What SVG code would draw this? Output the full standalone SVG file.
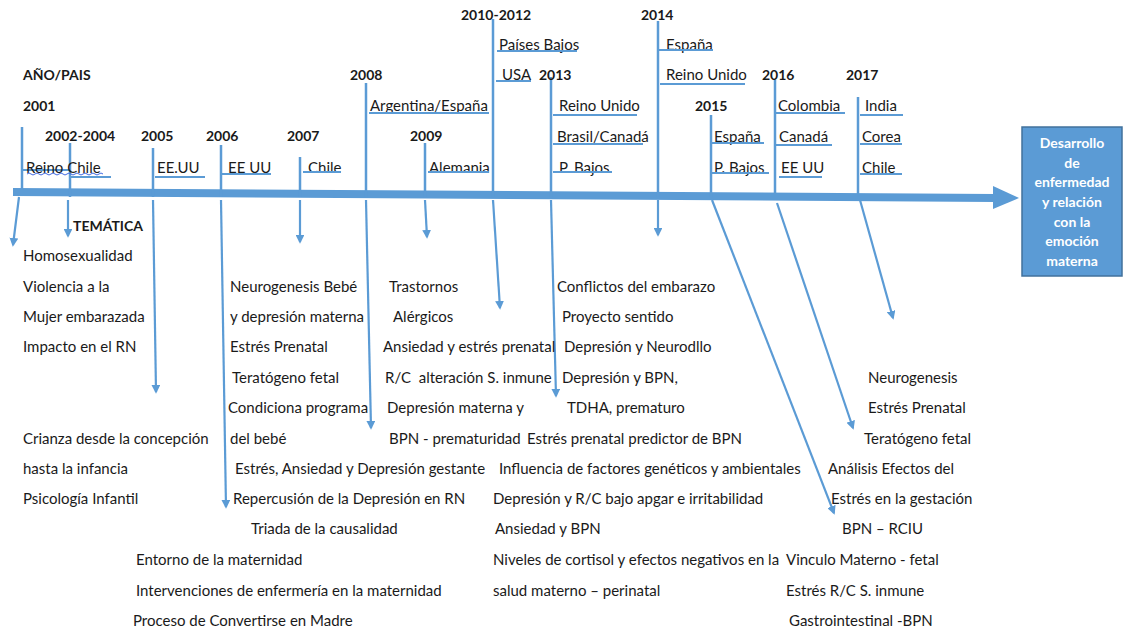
<svg xmlns="http://www.w3.org/2000/svg" width="1123" height="630" viewBox="0 0 1123 630">
<style>
.t{font-family:Lato,"Open Sans","Liberation Sans",sans-serif;font-size:15px;fill:#1a1a1a;dominant-baseline:central}
.b{font-family:Lato,"Open Sans","Liberation Sans",sans-serif;font-size:14px;font-weight:bold;fill:#1a1a1a;dominant-baseline:central}
.ln{stroke:#5B9BD5;stroke-width:2.5;fill:none}
.ul{stroke:#5B9BD5;stroke-width:2;fill:none}
.ar{stroke:#5B9BD5;stroke-width:2.2;fill:none;marker-end:url(#ah)}
.box{fill:#5B9BD5;stroke:#41719C;stroke-width:1.5}
.bt{font-family:Lato,"Open Sans","Liberation Sans",sans-serif;font-size:14px;font-weight:bold;fill:#fff;text-anchor:middle;dominant-baseline:central}
</style>
<defs>
<marker id="ah" viewBox="0 0 10 10" refX="8" refY="5" markerWidth="4" markerHeight="4" orient="auto" markerUnits="strokeWidth">
<path d="M0,0 L10,5 L0,10 z" fill="#5B9BD5"/>
</marker>
</defs>
<g id="connectors">
<path d="M13,192 L995,198" stroke="#5B9BD5" stroke-width="8" fill="none"/>
<path d="M993,186 L1019,198 L993,209 z" fill="#5B9BD5"/>
<path class="ln" d="M22,127 V190" stroke="#9DC3E6"/>
<path class="ar" d="M19,197 L13,245"/>
<path class="ln" d="M70,143 V197"/>
<path class="ar" d="M68,200 V236"/>
<path class="ln" d="M153,148 V197"/>
<path class="ar" d="M153,200 L156,392"/>
<path class="ln" d="M221,145 V197"/>
<path class="ar" d="M221,200 L226,507"/>
<path class="ln" d="M300,157 V197"/>
<path class="ar" d="M300,200 V242"/>
<path class="ln" d="M366,83 V197"/>
<path class="ar" d="M366,200 L371,428"/>
<path class="ln" d="M425,143 V197"/>
<path class="ar" d="M425,200 L427,237"/>
<path class="ln" d="M493,19 V197"/>
<path class="ar" d="M493,200 L500,308"/>
<path class="ln" d="M551,77 V197"/>
<path class="ar" d="M551,200 L556,396"/>
<path class="ln" d="M658,21 V197"/>
<path class="ar" d="M658,200 V235"/>
<path class="ln" d="M711,115 V197"/>
<path class="ar" d="M712,200 L834,513"/>
<path class="ln" d="M775,80 V194"/>
<path class="ar" d="M777,203 L853,428"/>
<path class="ln" d="M858,97 V194"/>
<path class="ar" d="M860,200 L893,318"/>
</g>
<g id="header">
<text class="b" x="23" y="74">AÑO/PAIS</text>
</g>
<g id="y2001">
<text class="b" x="23" y="105">2001</text>
<path class="ul" d="M22,170 H69" stroke="#9DC3E6"/>
<text class="t" x="26" y="167">Reino  Chile</text>
<path d="M27,174 q2,-2 4,0 t4,0 t4,0 t4,0 t4,0 t4,0 t4,0 t4,0 t4,0 t4,0 t4,0 t4,0 t4,0 t4,0 t4,0 t4,0 t4,0 t4,0 t4,0" stroke="#4169E1" stroke-width="1" fill="none"/>
</g>
<g id="y2002-2004">
<text class="b" x="45" y="135">2002-2004</text>
<path class="ul" d="M70,177 H111"/>
<text class="b" x="73" y="225">TEMÁTICA</text>
</g>
<g id="y2005">
<text class="b" x="141" y="135">2005</text>
<text class="t" x="157" y="167">EE.UU</text>
<path class="ul" d="M155,177 H205"/>
</g>
<g id="y2006">
<text class="b" x="206" y="135">2006</text>
<text class="t" x="228" y="167">EE UU</text>
<path class="ul" d="M222,174 H271"/>
</g>
<g id="y2007">
<text class="b" x="287" y="135">2007</text>
<text class="t" x="308" y="167">Chile</text>
<path class="ul" d="M303,172 H341"/>
</g>
<g id="y2008">
<text class="b" x="350" y="74">2008</text>
<text class="t" x="370" y="105">Argentina/España</text>
<path class="ul" d="M369,113 H489"/>
</g>
<g id="y2009">
<text class="b" x="410" y="135">2009</text>
<text class="t" x="429" y="167">Alemania</text>
<path class="ul" d="M428,172 H489"/>
</g>
<g id="y2010-2012">
<text class="b" x="461" y="14">2010-2012</text>
<text class="t" x="499" y="44">Países Bajos</text>
<path class="ul" d="M497,51 H577"/>
<text class="t" x="502" y="74">USA</text>
<path class="ul" d="M496,81 H531"/>
</g>
<g id="y2013">
<text class="b" x="539" y="74">2013</text>
<text class="t" x="559" y="105">Reino Unido</text>
<path class="ul" d="M553,115 H637"/>
<text class="t" x="557" y="136">Brasil/Canadá</text>
<path class="ul" d="M553,144 H643"/>
<text class="t" x="559" y="167">P. Bajos</text>
<path class="ul" d="M553,172 H612"/>
</g>
<g id="y2014">
<text class="b" x="641" y="14">2014</text>
<text class="t" x="666" y="44">España</text>
<path class="ul" d="M659,50 H713"/>
<text class="t" x="666" y="74">Reino Unido</text>
<path class="ul" d="M660,84 H745"/>
</g>
<g id="y2015">
<text class="b" x="695" y="105">2015</text>
<text class="t" x="714" y="136">España</text>
<path class="ul" d="M712,143 H764"/>
<text class="t" x="714" y="167">P. Bajos</text>
<path class="ul" d="M712,173 H769"/>
</g>
<g id="y2016">
<text class="b" x="762" y="74">2016</text>
<text class="t" x="778" y="105">Colombia</text>
<path class="ul" d="M776,113 H845"/>
<text class="t" x="779" y="136">Canadá</text>
<path class="ul" d="M776,145 H832"/>
<text class="t" x="781" y="167">EE UU</text>
<path class="ul" d="M779,177 H822"/>
</g>
<g id="y2017">
<text class="b" x="846" y="74">2017</text>
<text class="t" x="865" y="105">India</text>
<path class="ul" d="M860,115 H903"/>
<text class="t" x="862" y="136">Corea</text>
<path class="ul" d="M860,144 H902"/>
<text class="t" x="862" y="167">Chile</text>
<path class="ul" d="M860,174 H902"/>
</g>
<g id="result">
<rect class="box" x="1022" y="127" width="100" height="149"/>
<text class="bt" x="1072" y="142">Desarrollo</text>
<text class="bt" x="1072" y="162">de</text>
<text class="bt" x="1072" y="181">enfermedad</text>
<text class="bt" x="1072" y="201">y relación</text>
<text class="bt" x="1072" y="221">con la</text>
<text class="bt" x="1072" y="240">emoción</text>
<text class="bt" x="1072" y="260">materna</text>
</g>
<g id="topics-col1">
<text class="t" x="23" y="255">Homosexualidad</text>
<text class="t" x="23" y="286">Violencia a la</text>
<text class="t" x="23" y="316">Mujer embarazada</text>
<text class="t" x="23" y="346">Impacto en el RN</text>
<text class="t" x="23" y="438">Crianza desde la concepción</text>
<text class="t" x="23" y="468">hasta la infancia</text>
<text class="t" x="23" y="498">Psicología Infantil</text>
<text class="t" x="136" y="559">Entorno de la maternidad</text>
<text class="t" x="136" y="590">Intervenciones de enfermería en la maternidad</text>
<text class="t" x="133" y="620">Proceso de Convertirse en Madre</text>
</g>
<g id="topics-col2">
<text class="t" x="230" y="286">Neurogenesis Bebé</text>
<text class="t" x="230" y="316">y depresión materna</text>
<text class="t" x="230" y="346">Estrés Prenatal</text>
<text class="t" x="232" y="377">Teratógeno fetal</text>
<text class="t" x="228" y="407">Condiciona programa</text>
<text class="t" x="230" y="438">del bebé</text>
<text class="t" x="235" y="468">Estrés, Ansiedad y Depresión gestante</text>
<text class="t" x="233" y="498">Repercusión de la Depresión en RN</text>
<text class="t" x="251" y="528">Triada de la causalidad</text>
</g>
<g id="topics-col3">
<text class="t" x="389" y="286">Trastornos</text>
<text class="t" x="393" y="316">Alérgicos</text>
<text class="t" x="383" y="346">Ansiedad y estrés prenatal</text>
<text class="t" x="385" y="377" xml:space="preserve">R/C  alteración S. inmune</text>
<text class="t" x="387" y="407">Depresión materna y</text>
<text class="t" x="389" y="438">BPN - prematuridad</text>
</g>
<g id="topics-col4">
<text class="t" x="557" y="286">Conflictos del embarazo</text>
<text class="t" x="562" y="316">Proyecto sentido</text>
<text class="t" x="564" y="346">Depresión y Neurodllo</text>
<text class="t" x="562" y="377">Depresión y BPN,</text>
<text class="t" x="567" y="407">TDHA, prematuro</text>
<text class="t" x="527" y="438">Estrés prenatal predictor de BPN</text>
<text class="t" x="499" y="468">Influencia de factores genéticos y ambientales</text>
<text class="t" x="493" y="498">Depresión y R/C bajo apgar e irritabilidad</text>
<text class="t" x="495" y="528">Ansiedad y BPN</text>
<text class="t" x="493" y="559">Niveles de cortisol y efectos negativos en la</text>
<text class="t" x="493" y="590">salud materno – perinatal</text>
</g>
<g id="topics-col5">
<text class="t" x="868" y="377">Neurogenesis</text>
<text class="t" x="868" y="407">Estrés Prenatal</text>
<text class="t" x="864" y="438">Teratógeno fetal</text>
<text class="t" x="828" y="468">Análisis Efectos del</text>
<text class="t" x="831" y="498">Estrés en la gestación</text>
<text class="t" x="842" y="528">BPN – RCIU</text>
<text class="t" x="786" y="559">Vinculo Materno - fetal</text>
<text class="t" x="786" y="590">Estrés R/C S. inmune</text>
<text class="t" x="789" y="620">Gastrointestinal -BPN</text>
</g>
</svg>
